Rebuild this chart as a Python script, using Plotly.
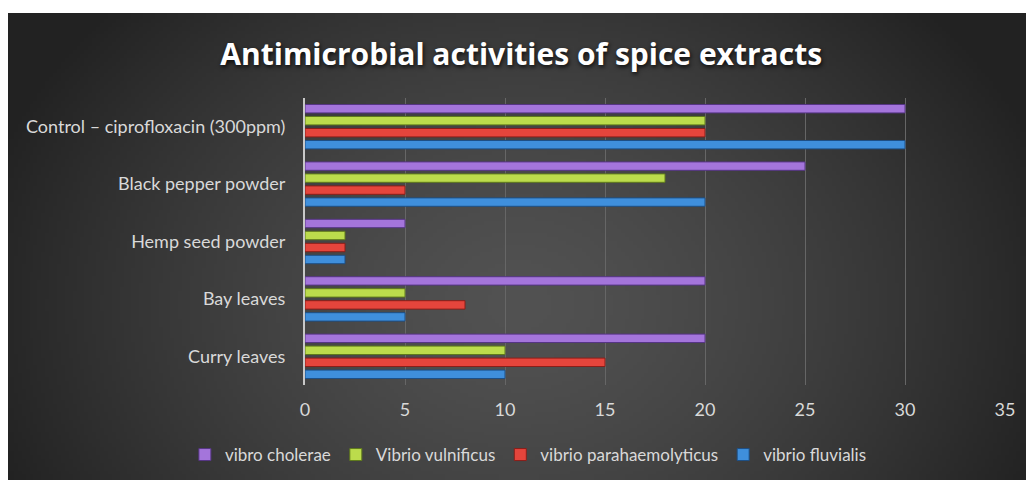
import base64
import struct
import zlib

import numpy as np
import plotly.graph_objects as go

# ---------------- data ----------------
categories = ["Curry leaves", "Bay leaves", "Hemp seed powder", "Black pepper powder",
              "Control – ciprofloxacin (300ppm)"]
vibrio_fluvialis = [10, 5, 2, 20, 30]
vibrio_parahaemolyticus = [15, 8, 2, 5, 20]
vibrio_vulnificus = [10, 5, 2, 18, 20]
vibro_cholerae = [20, 20, 5, 25, 30]
series_names = ["vibrio fluvialis", "vibrio parahaemolyticus", "Vibrio vulnificus", "vibro cholerae"]
x_ticks = [0, 5, 10, 15, 20, 25, 30, 35]

# ---------------- styles ----------------
fills = ["#3f8fdc", "#e5453c", "#bcdc4c", "#a475db"]
edges = ["#1d4f86", "#8a1e19", "#5f7a1c", "#563585"]
FONT = "Lato"

# background radial gradient as a small PNG
def gradient_png(w=260, h=120):
    yy, xx = np.mgrid[0:h, 0:w]
    cx, cy = w * 0.5, h * 0.62
    d = np.sqrt(((xx - cx) / (w * 0.55)) ** 2 + ((yy - cy) / (h * 0.95)) ** 2)
    d = np.clip(d, 0, 1)
    v = 82 - (82 - 34) * d ** 1.4
    img = np.clip(v, 0, 255).astype(np.uint8)
    raw = b"".join(b"\x00" + bytes(np.repeat(row, 3)) for row in img)

    def chunk(tag, data):
        c = struct.pack(">I", len(data)) + tag + data
        return c + struct.pack(">I", zlib.crc32(tag + data) & 0xFFFFFFFF)

    png = b"\x89PNG\r\n\x1a\n"
    png += chunk(b"IHDR", struct.pack(">IIBBBBB", w, h, 8, 2, 0, 0, 0))
    png += chunk(b"IDAT", zlib.compress(raw, 9))
    png += chunk(b"IEND", b"")
    return "data:image/png;base64," + base64.b64encode(png).decode()

W, H = 1026, 480
ML, MR, MT, MB = 305, 21, 98, 95
pw, ph = W - ML - MR, H - MT - MB

series_values = [vibrio_fluvialis, vibrio_parahaemolyticus, vibrio_vulnificus, vibro_cholerae]

fig = go.Figure()
for name, vals, fc, ec in zip(series_names, series_values, fills, edges):
    fig.add_trace(go.Bar(
        y=categories, x=vals, name=name, orientation="h",
        marker=dict(color=fc, line=dict(color=ec, width=1)),
    ))

fig.update_layout(
    width=W, height=H,
    margin=dict(l=ML, r=MR, t=MT, b=MB),
    paper_bgcolor="white",
    plot_bgcolor="rgba(0,0,0,0)",
    barmode="group",
    bargap=0.164,
    bargroupgap=0.3,
    title=dict(
        text="<b>Antimicrobial activities of spice extracts</b>",
        x=0.508, xref="container", xanchor="center",
        y=1 - 54 / H, yanchor="middle",
        font=dict(family="Open Sans", size=30, color="white",
                  shadow="1px 2px 4px rgba(0,0,0,0.8)"),
    ),
    xaxis=dict(
        range=[0, 35], tickvals=x_ticks, showgrid=True, gridcolor="#666666", gridwidth=1,
        zeroline=False, showline=False, ticks="",
        tickfont=dict(family=FONT, size=18, color="#d9d9d9"),
        ticklabelstandoff=12,
    ),
    yaxis=dict(
        showline=True, linecolor="#c8c8c8", linewidth=2, ticks="",
        tickfont=dict(family=FONT, size=18, color="#d9d9d9"),
        ticklabelstandoff=14,
    ),
    legend=dict(
        orientation="h", traceorder="reversed",
        x=0.515, xref="container", xanchor="center",
        y=(H - 455) / H, yref="container", yanchor="middle",
        font=dict(family=FONT, size=17, color="#d9d9d9"),
        itemwidth=30, bgcolor="rgba(0,0,0,0)",
    ),
    showlegend=True,
    images=[dict(
        source=gradient_png(), xref="paper", yref="paper",
        x=(8 - ML) / pw, y=1 + (MT - 13) / ph,
        sizex=(W - 8) / pw, sizey=(H - 13) / ph,
        sizing="stretch", xanchor="left", yanchor="top", layer="below",
    )],
)

fig.write_html("out.html")
